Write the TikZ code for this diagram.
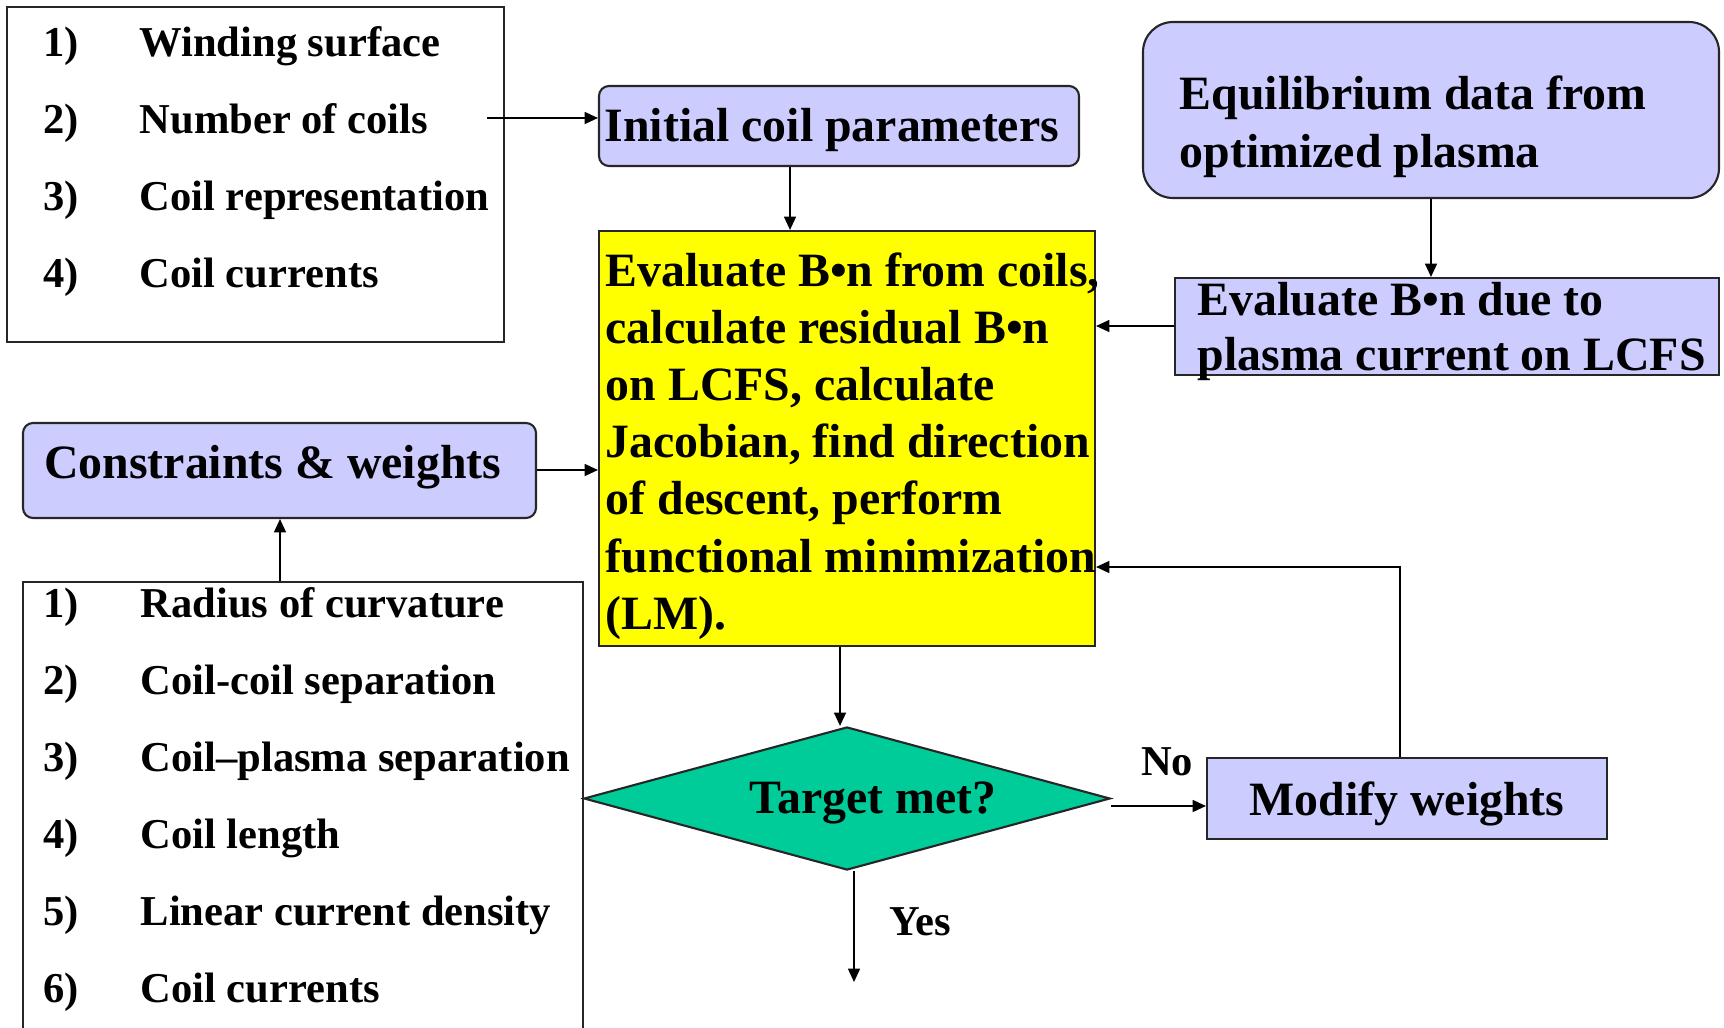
\documentclass[tikz,border=0pt]{standalone}
\usepackage{fontspec}
\setmainfont{Liberation Serif}
\usetikzlibrary{arrows.meta,shapes.geometric,fit}

\definecolor{lav}{HTML}{CCCCFF}
\definecolor{ylw}{HTML}{FFFF00}
\definecolor{tealg}{HTML}{00CC99}

\newcommand\bigtxt{\fontsize{13.6}{16.3}\selectfont\bfseries}
\newcommand\smalltxt{\fontsize{12.1}{14.5}\selectfont\bfseries}

\tikzset{
  boxline/.style={draw=black!85, line width=0.6pt},
  plainbox/.style={draw=black!85, line width=0.5pt, fill=white, inner sep=0pt},
  lavbox/.style={boxline, fill=lav, inner sep=0pt},
  lavround/.style={lavbox, rounded corners=0.1cm},
  bigtext/.style={inner sep=0pt, font=\bigtxt},
  smalltext/.style={inner sep=0pt, font=\smalltxt},
  arr/.style={line width=0.5pt, -{Triangle[length=3.8pt,width=3.4pt]}},
}

\begin{document}
\begin{tikzpicture}[x=0.01cm, y=-0.01cm]
\useasboundingbox (0,0) rectangle (1724,1027);

% ---- boxes ----
\node[plainbox, fit={(7,7) (504,342)}] (list1) {};
\node[lavround, fit={(599,86) (1079,166)}] (init) {};
\node[lavbox, rounded corners=0.3cm, fit={(1143,22) (1719,198)}] (equil) {};
\node[lavbox, fit={(1175,278) (1719,375)}] (bn) {};
\node[boxline, fill=ylw, inner sep=0pt, fit={(599,231) (1095,646)}] (eval) {};
\node[lavround, fit={(23,423) (536,518)}] (cons) {};
\draw[draw=black!85, line width=0.5pt, fill=white] (23,1040) |- (583,582) -- (583,1040);
\node[inner sep=0pt, fit={(23,582) (583,1027)}] (list2) {};
\node[draw=black!85, line width=0.6pt, fill=tealg, diamond, inner sep=0pt,
      aspect=3.68, minimum width=5.26cm, minimum height=1.43cm] (target) at (847,798.5) {};
\node[lavbox, fit={(1207,758) (1607,839)}] (modify) {};

% ---- texts ----
\foreach \n/\t [count=\i from 0] in {1)/Winding surface, 2)/Number of coils,
    3)/Coil representation, 4)/Coil currents} {
  \node[smalltext, anchor=base west] (l1n\i) at (43,57+76.7*\i) {\n};
  \node[smalltext, anchor=base west] (l1t\i) at (139,57+76.7*\i) {\t};
}
\foreach \n/\t [count=\i from 0] in {1)/Radius of curvature, 2)/Coil-coil separation,
    3)/Coil–plasma separation, 4)/Coil length, 5)/Linear current density, 6)/Coil currents} {
  \node[smalltext, anchor=base west] (l2n\i) at (43,617+77*\i) {\n};
  \node[smalltext, anchor=base west] (l2t\i) at (140,617+77*\i) {\t};
}
\node[bigtext, anchor=base west] (initt) at (604,141) {Initial coil parameters};
\foreach \t [count=\i from 0] in {{Evaluate B•n from coils,}, calculate residual B•n,
    {on LCFS, calculate}, {Jacobian, find direction}, {of descent, perform},
    functional minimization, (LM).} {
  \node[bigtext, anchor=base west] (evt\i) at (605,286+57.2*\i) {\t};
}
\node[bigtext, anchor=base west] (eqt1) at (1179,110) {Equilibrium data from};
\node[bigtext, anchor=base west] (eqt2) at (1179,167) {optimized plasma};
\node[bigtext, anchor=base west] (bnt1) at (1197,315) {Evaluate B•n due to};
\node[bigtext, anchor=base west] (bnt2) at (1197,370) {plasma current on LCFS};
\node[bigtext, anchor=base west] (const) at (43.5,478) {Constraints \& weights};
\node[bigtext, anchor=base] (targett) at (873,813) {Target met?};
\node[bigtext, anchor=base] (modt) at (1407,815) {Modify weights};
\node[smalltext, anchor=base] (no) at (1167,775) {No};
\node[smalltext, anchor=base] (yes) at (920,935) {Yes};

% ---- connectors ----
\draw[arr] (list1.east |- 0,118) ++(-18,0) -- (init.west |- 0,118);
\draw[arr] (init.south -| 790,0) -- (eval.north -| 790,0);
\draw[arr] (equil.south -| 1431,0) -- (bn.north -| 1431,0);
\draw[arr] (bn.west |- 0,326) -- (eval.east |- 0,326);
\draw[arr] (cons.east |- 0,470) -- (eval.west |- 0,470);
\draw[arr] (list2.north -| 280,0) -- (cons.south -| 280,0);
\draw[arr] (eval.south -| 840,0) -- (840,0 |- target.north);
\draw[arr] (target.east |- 0,806) -- (modify.west |- 0,806);
\coordinate (done) at (854,982);
\draw[arr] (target.south -| 854,0) -- (done);
\draw[arr] (modify.north -| 1400,0) |- (eval.east |- 0,567);
\end{tikzpicture}
\end{document}
